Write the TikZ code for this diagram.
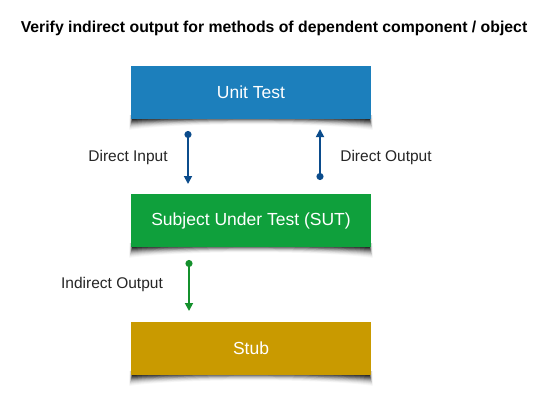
\documentclass[tikz,border=0pt]{standalone}
\usepackage{fontspec}
\setmainfont{Liberation Sans}
\usetikzlibrary{arrows.meta}
\definecolor{utblue}{HTML}{1C7FBC}
\definecolor{sutgreen}{HTML}{0FA03C}
\definecolor{stubgold}{HTML}{C99A00}
\definecolor{arrblue}{HTML}{0B4C8C}
\definecolor{arrgreen}{HTML}{14902C}
\begin{document}
\begin{tikzpicture}[x=1pt,y=-1pt,
  card/.style={minimum width=240pt,minimum height=53pt,inner sep=0pt,text=white,font=\fontsize{17.5}{20}\selectfont},
  lbl/.style={font=\fontsize{15.5}{18}\selectfont,text=black!85},
  flow/.style={line width=1.7pt,{Circle[length=7pt]}-{Triangle[length=8pt,width=8pt]}}]
\useasboundingbox (0,0) rectangle (560,407);
\fill[white] (0,0) rectangle (560,407);
\node[font=\bfseries\fontsize{15.8}{19}\selectfont] (title) at (274,28) {Verify indirect output for methods of dependent component / object};
% shadows
\foreach \yy in {119,247,375}{
  \foreach \i/\o in {0/0.35,1/0.28,2/0.22,3/0.18,4/0.14,5/0.10,6/0.08,7/0.06,8/0.04,9/0.03}{
    \fill[black,opacity=\o] (133-\i*0.4,\yy-4) -- (369+\i*0.4,\yy-4) -- (370+\i*0.3,\yy+1+\i*1.1)
      .. controls (320,\yy-2+\i*0.6) and (182,\yy-2+\i*0.6) .. (132-\i*0.3,\yy+1+\i*1.1) -- cycle;
  }
}
\node[card,fill=utblue] (ut) at (251,92.5) {Unit Test};
\node[card,fill=sutgreen] (sut) at (251,220.5) {Subject Under Test (SUT)};
\node[card,fill=stubgold] (stub) at (251,348.5) {Stub};
\coordinate (a1) at (188,131);
\coordinate (a2) at (188,184);
\coordinate (b1) at (320,180);
\coordinate (b2) at (320,129);
\coordinate (c1) at (189,260);
\coordinate (c2) at (189,311);
\draw[flow,arrblue] (a1) -- (a2);
\draw[flow,arrblue] (b1) -- (b2);
\draw[flow,arrgreen] (c1) -- (c2);
\node[lbl] (din) at (128,157) {Direct Input};
\node[lbl] (dout) at (386,157) {Direct Output};
\node[lbl] (iout) at (112,284) {Indirect Output};
\end{tikzpicture}
\end{document}
